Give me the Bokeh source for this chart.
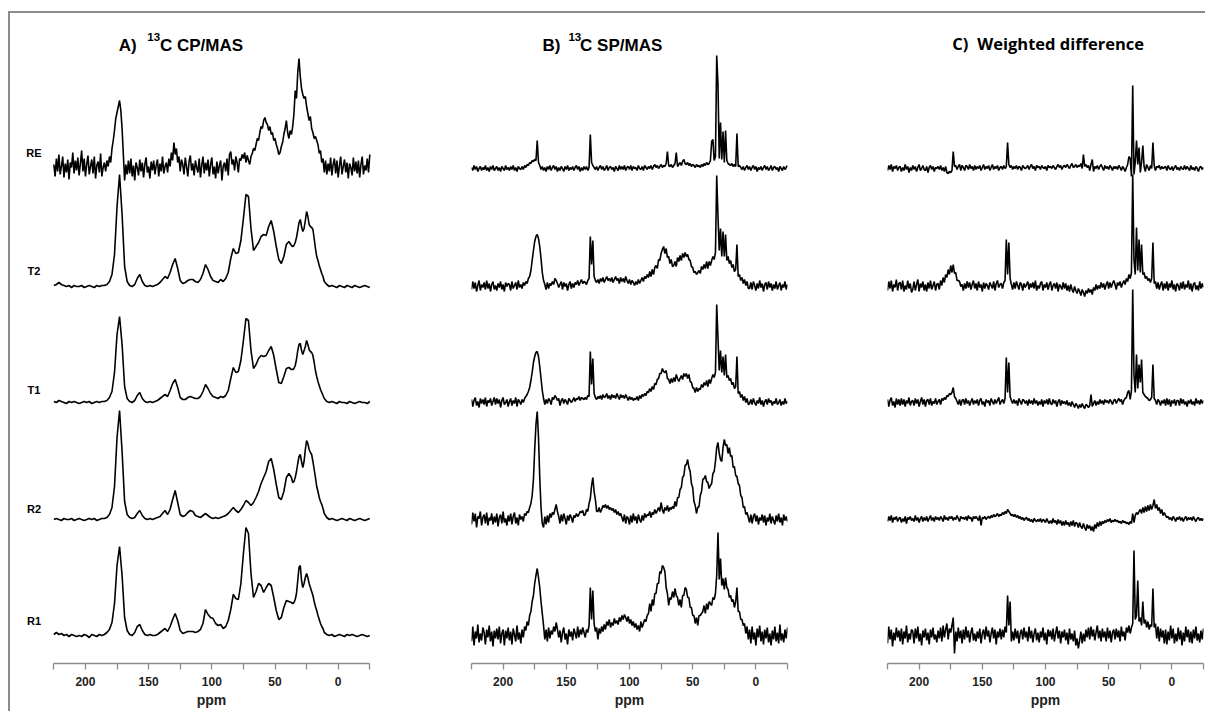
import numpy as np
from bokeh.plotting import figure
from bokeh.layouts import row
from bokeh.models import Range1d, FixedTicker
from bokeh.core.properties import value
from bokeh.embed import file_html
from bokeh.resources import INLINE

# chemical-shift sampling grids (ppm)
# coarse grid for the smooth CP/MAS traces: 2 ppm steps, 1 ppm steps at 36-12 ppm
PPM_COARSE = np.concatenate([np.arange(225, 36, -2), np.arange(36, 11, -1), np.arange(11, -26, -2)]).astype(float)
# fine 1 ppm grid for the noisy traces
PPM_FINE = np.arange(225, -26, -1).astype(float)

SAMPLES = ["RE", "T2", "T1", "R2", "R1"]
TICKS = [200, 150, 100, 50, 0]
MINOR_TICKS = [225, 175, 125, 75, 25, -25]

# ---------------- A) 13C CP/MAS ----------------
A_RE = [  # fine grid, 225 .. -25
    4, -8, 10, -3, 14, -6, 2, 12, -9, 5,
    -4, 9, -11, 6, 1, 16, -5, 8, -2, 11,
    -7, 5, 18, -3, 10, -8, 4, 13, -6, 2,
    9, -5, 12, -10, 3, 7, -4, 15, -8, 1,
    6, -3, 8, 2, 12, 6, 20, 28, 38, 50,
    56, 62, 68, 58, 40, 14, -12, 4, -6, 8,
    -5, 10, -8, 3, -12, 6, 1, -7, 9, -3,
    6, -9, 4, 11, -4, 2, -10, 7, -2, 8,
    -6, 3, 9, -8, 5, -3, 12, -5, 2, 6,
    -4, 10, 2, 16, 8, 26, 14, 20, 6, 12,
    -3, 9, 4, -6, 11, 2, -8, 7, 13, -2,
    5, -7, 8, 1, -4, 10, -9, 3, 12, -5,
    6, -2, 9, -8, 4, 11, -6, 2, -10, 7,
    -5, 3, 8, -12, 2, 6, -3, 10, -7, 14,
    17, 4, 9, -2, 12, 6, -4, 10, 8, 14,
    10, 16, 6, 13, 8, 4, 12, 15, 20, 18,
    24, 30, 28, 36, 42, 40, 48, 51, 46, 44,
    38, 42, 34, 36, 28, 30, 24, 20, 14, 16,
    22, 26, 34, 40, 48, 36, 30, 38, 34, 42,
    55, 78, 70, 96, 110, 92, 80, 74, 70, 72,
    62, 55, 48, 52, 40, 36, 30, 32, 28, 24,
    15, 18, 6, 10, -4, 8, -6, 5, -3, 11,
    -7, 4, 10, -5, 8, -9, 3, 12, -6, 2,
    9, -4, 6, -10, 5, 1, -7, 11, -3, 7,
    -5, 8, -9, 4, 12, -6, 3, -2, 10, -4,
    14,
]
A_T2 = [  # coarse grid
    1, 2, 4, 2, 1, 0, 1, -1, 1, 0,
    0, 1, -1, 0, 1, 0, -1, 1, 0, 1,
    1, 2, 5, 12, 32, 80, 112, 72, 20, 5,
    1, 0, 2, 8, 12, 5, 1, 0, 1, 0,
    1, 2, 4, 7, 10, 8, 14, 22, 28, 18,
    6, 3, 4, 6, 7, 7, 5, 4, 7, 13,
    22, 17, 10, 6, 5, 4, 7, 5, 8, 14,
    28, 38, 33, 34, 46, 68, 92, 90, 58, 36,
    40, 44, 50, 52, 51, 60, 66, 55, 40, 27,
    23, 30, 42, 45, 41,
    40, 41, 44, 49, 56, 64, 67, 60, 55, 58,
    66, 75, 70, 62, 60, 59, 57, 48, 38, 30,
    26, 21, 17, 13, 10,
    5, 2, 0, 1, 0, -1, 1, 0, -1, 1,
    0, -1, 1, 0, -1, 0, 1, 0, -1,
]
A_T1 = [  # coarse grid
    1, 0, 2, 1, 0, -1, 1, 0, 1, 0,
    -1, 0, 1, 0, 1, -1, 0, 1, 0, 1,
    1, 2, 5, 11, 30, 68, 86, 58, 16, 4,
    1, 0, 2, 7, 10, 4, 1, 0, 1, 0,
    1, 2, 4, 6, 8, 6, 12, 19, 23, 15,
    5, 3, 3, 5, 6, 5, 4, 4, 6, 11,
    18, 14, 9, 6, 5, 4, 6, 5, 7, 12,
    24, 35, 30, 31, 42, 62, 84, 82, 52, 34,
    38, 44, 47, 46, 47, 52, 56, 47, 33, 20,
    19, 26, 34, 35, 33,
    33, 34, 37, 43, 52, 58, 59, 52, 48, 52,
    56, 62, 58, 53, 51, 50, 47, 40, 32, 26,
    21, 17, 13, 10, 7,
    4, 1, 0, 1, 0, -1, 1, 0, 0, -1,
    1, 0, -1, 0, 1, 0, 0, -1, 1,
]
A_R2 = [  # coarse grid
    0, 1, 0, -1, 1, 0, 0, 1, -1, 0,
    1, 0, -1, 0, 1, 0, 1, -1, 0, 1,
    1, 2, 5, 12, 33, 82, 109, 68, 18, 5,
    2, 1, 2, 6, 9, 4, 1, 0, 1, 0,
    1, 2, 3, 6, 9, 5, 10, 20, 29, 17,
    5, 3, 4, 7, 9, 8, 4, 3, 2, 4,
    6, 4, 2, 1, 2, 1, 2, 3, 4, 6,
    9, 12, 9, 7, 10, 14, 19, 17, 14, 17,
    22, 28, 36, 42, 48, 58, 61, 50, 35, 22,
    20, 28, 42, 46, 42,
    37, 38, 42, 48, 56, 63, 65, 58, 52, 58,
    70, 79, 76, 70, 67, 65, 58, 50, 42, 33,
    28, 22, 18, 15, 11,
    6, 2, 0, 1, 0, -1, 0, 1, 0, -1,
    1, 0, -1, 0, 1, 0, -1, 0, 1,
]
A_R1 = [  # coarse grid
    1, 3, 1, 2, 0, 1, -1, 1, 0, -1,
    0, -1, 1, 0, -2, 1, 0, -1, 1, 0,
    1, 3, 6, 13, 32, 70, 89, 60, 18, 5,
    1, 0, 3, 9, 11, 5, 1, 0, 1, 0,
    0, 1, 3, 5, 7, 4, 9, 16, 22, 15,
    5, 2, 3, 4, 4, 4, 3, 4, 6, 12,
    26, 21, 18, 17, 12, 10, 11, 7, 9, 15,
    26, 41, 37, 36, 52, 82, 108, 102, 62, 38,
    44, 52, 50, 43, 48, 52, 50, 38, 25, 16,
    18, 28, 35, 34, 33,
    32, 33, 36, 42, 55, 68, 70, 55, 48, 52,
    58, 62, 58, 52, 48, 44, 40, 34, 29, 25,
    20, 16, 12, 9, 7,
    3, 1, 0, 1, -1, 0, 1, 0, -1, 1,
    0, 1, 0, -1, 0, 1, 0, -1, 0,
]

# ---------------- B) 13C SP/MAS (fine grid) ----------------
B_RE = [
    1, -2, 3, -1, 2, -3, 0, 2, -2, 1,
    -1, 3, -2, 1, -3, 2, -1, 3, -2, 0,
    2, -2, 1, -3, 2, 0, -2, 3, -1, 1,
    -2, 2, -1, 3, -2, 1, -3, 2, 0, -1,
    2, -1, 3, 1, 4, 3, 6, 5, 8, 7,
    9, 8, 28, 6, 3, -1, 2, -2, 1, -3,
    2, -1, 3, -2, 1, 3, -1, 2, -3, 1,
    -2, 2, 0, -3, 2, -1, 3, -2, 1, -1,
    2, -2, 1, 3, -1, 2, -3, 1, -2, 2,
    -1, 2, -2, 1, 34, 6, 3, 1, -1, 2,
    -2, 1, 3, -1, 2, -2, 0, 3, -2, 1,
    2, -1, 1, -3, 2, 0, -2, 3, -1, 2,
    -1, 3, -2, 1, 2, -1, 3, -2, 2, 0,
    1, -2, 3, 0, -1, 2, -2, 3, 1, -1,
    2, 0, 3, -1, 2, 4, 1, 3, 0, 2,
    4, 1, 3, 2, 5, 17, 3, 2, 4, 1,
    3, 5, 16, 2, 4, 6, 3, 7, 9, 5,
    4, 6, 3, 5, 2, 4, 3, 1, 4, 2,
    3, 1, 4, 2, 5, 3, 6, 4, 5, 8,
    27, 29, 8, 12, 113, 84, 10, 46, 9, 37,
    6, 38, 8, 5, 4, 3, 5, 2, 4, 2,
    35, 2, 3, 1, -1, 2, -2, 1, 3, -1,
    2, -2, 1, 3, -1, 2, -3, 1, -1, 2,
    -2, 1, 3, -1, 2, -2, 0, 3, -2, 1,
    2, -1, 1, -3, 2, 0, -2, 2, -1, 1,
    3,
]
B_T2 = [
    -3, 5, -2, 4, -5, 1, 6, -4, 2, -1,
    4, -3, 6, -2, 3, -5, 2, 5, -3, 1,
    -4, 3, -1, 5, -3, 2, -5, 4, 0, 3,
    2, -4, 5, -2, 1, 4, -3, 6, -1, 2,
    -2, 4, 1, 5, 3, 8, 10, 16, 26, 36,
    45, 50, 52, 48, 40, 28, 14, 6, 2, -3,
    4, -2, 3, 1, 5, 2, 8, 6, 3, -1,
    2, 5, -3, 4, 0, 3, -4, 2, 5, -2,
    3, -1, 4, 2, 6, 1, 4, 7, 3, 5,
    4, 2, 6, 8, 50, 22, 46, 10, 6, 4,
    7, 3, 8, 5, 9, 4, 7, 10, 6, 8,
    5, 9, 4, 7, 10, 6, 8, 3, 9, 5,
    8, 4, 10, 6, 3, 7, 2, 6, 4, 1,
    5, 2, 7, 3, 6, 9, 5, 10, 8, 12,
    9, 15, 10, 17, 12, 19, 21, 18, 27, 26,
    33, 37, 40, 33, 38, 29, 30, 23, 27, 20,
    21, 25, 20, 29, 25, 31, 26, 33, 29, 34,
    30, 32, 27, 26, 20, 19, 14, 15, 12, 14,
    16, 13, 20, 17, 22, 18, 25, 18, 25, 21,
    26, 30, 27, 34, 111, 70, 36, 58, 30, 55,
    30, 52, 26, 30, 23, 26, 19, 22, 15, 17,
    42, 10, 12, 6, 9, 3, 7, 1, 5, -2,
    -2, 4, -3, 5, 1, -4, 3, -2, 6, -1,
    3, -5, 2, 4, -3, 5, -1, 3, -4, 2,
    -2, 5, -3, 1, 4, -4, 2, -1, 5, -3,
    2,
]
B_T1 = [
    3, -4, 2, 5, -3, 1, -5, 4, -1, 3,
    -2, 5, -4, 2, 0, 4, -3, 1, 5, -2,
    4, -1, 3, -5, 2, 5, -2, 0, 3, -4,
    1, 4, -3, 2, -1, 5, -4, 3, 1, -2,
    3, 0, 4, 6, 8, 11, 15, 22, 30, 40,
    46, 50, 51, 46, 36, 24, 12, 4, -2, 3,
    -1, 4, 2, -2, 5, 3, 7, 5, 2, 4,
    -3, 2, 4, -1, 3, 1, -2, 4, 2, 0,
    2, 5, 1, 4, 3, 6, 2, 5, 4, 3,
    5, 3, 7, 6, 51, 18, 44, 9, 5, 3,
    6, 4, 7, 3, 8, 5, 6, 9, 4, 7,
    3, 8, 5, 7, 4, 9, 6, 3, 8, 5,
    7, 4, 8, 5, 2, 6, 3, 5, 2, 4,
    3, 6, 2, 7, 4, 8, 6, 9, 7, 11,
    10, 14, 11, 16, 13, 19, 18, 23, 24, 29,
    29, 34, 31, 30, 32, 24, 23, 19, 24, 20,
    25, 21, 28, 24, 21, 24, 27, 23, 29, 26,
    29, 24, 28, 21, 20, 15, 14, 10, 15, 11,
    14, 13, 18, 15, 20, 17, 22, 16, 23, 19,
    24, 28, 25, 30, 98, 64, 32, 52, 30, 46,
    27, 48, 25, 27, 22, 24, 18, 20, 14, 16,
    46, 9, 11, 5, 8, 2, 6, 0, 4, -2,
    -1, 3, -2, 4, 0, -3, 2, -1, 5, -2,
    2, -4, 1, 3, -2, 4, 0, 2, -3, 1,
    -1, 4, -2, 0, 3, -3, 1, -2, 4, -1,
    1,
]
B_R2 = [
    -5, 7, -2, 6, -8, 3, 1, 8, -6, 2,
    5, -4, 7, -6, 2, -1, 6, -5, 3, -3,
    6, -7, 2, 5, -4, 8, -3, 1, -6, 4,
    -2, 6, -5, 3, 7, -4, 2, -6, 5, 0,
    3, -2, 6, 4, 8, 7, 12, 16, 24, 40,
    70, 95, 108, 82, 42, 12, -4, -8, 3, -5,
    4, -3, 6, 2, 7, 5, 10, 15, 8, 3,
    -4, 5, -2, 6, 1, -5, 4, -1, 5, 2,
    -3, 4, 2, 6, 3, 5, 8, 7, 9, 4,
    5, 10, 8, 16, 21, 34, 42, 28, 20, 8,
    8, 12, 7, 10, 14, 12, 15, 11, 14, 10,
    12, 9, 11, 7, 10, 5, 8, 4, 6, 2,
    -2, 5, -4, 3, 1, -5, 4, -3, 6, -1,
    3, -4, 5, 0, -3, 4, -1, 6, 2, 5,
    4, 8, 2, 7, 5, 10, 6, 9, 12, 8,
    17, 10, 6, 12, 9, 14, 8, 12, 10, 13,
    11, 18, 13, 22, 22, 30, 32, 42, 44, 54,
    55, 60, 52, 48, 36, 32, 18, 14, 6, 12,
    13, 24, 28, 40, 41, 44, 38, 37, 31, 34,
    36, 46, 48, 58, 72, 77, 66, 60, 58, 72,
    80, 74, 75, 66, 72, 63, 64, 52, 53, 44,
    43, 36, 34, 24, 22, 12, 13, 5, 7, 2,
    -3, 5, -4, 3, 6, -2, 4, -5, 2, -1,
    5, -3, 4, -6, 2, -2, 6, -4, 3, -1,
    -5, 4, -2, 6, -3, 2, -6, 5, -1, 3,
    -2,
]
B_R1 = [
    -6, 9, -10, 4, -3, 11, -7, 2, -5, 8,
    3, -9, 6, -2, 10, -6, 4, -11, 5, -3,
    7, -4, 9, -8, 2, 6, -10, 5, -3, 8,
    -5, 4, -9, 7, 1, -6, 10, -4, 3, -8,
    6, -2, 9, 5, 14, 10, 20, 24, 34, 40,
    52, 60, 67, 58, 48, 34, 22, 10, -4, 6,
    -6, 8, -3, 5, 1, 9, 4, 13, 6, -2,
    5, -7, 3, 8, -4, 2, -9, 6, -1, 4,
    -5, 7, 2, -3, 9, -2, 6, 1, 8, 3,
    -2, 6, 3, 10, 48, 16, 45, 12, 4, 8,
    -4, 7, 2, 9, 4, 11, 6, 14, 10, 16,
    8, 13, 10, 17, 12, 15, 11, 18, 14, 20,
    16, 21, 18, 14, 19, 12, 16, 10, 14, 8,
    12, 6, 10, 4, 14, 8, 12, 16, 14, 20,
    22, 32, 24, 36, 30, 42, 42, 52, 52, 64,
    62, 70, 68, 64, 48, 42, 30, 38, 36, 44,
    38, 47, 40, 38, 30, 36, 28, 40, 40, 48,
    46, 38, 38, 28, 28, 20, 20, 12, 18, 10,
    20, 20, 22, 24, 30, 22, 32, 26, 34, 32,
    30, 38, 36, 42, 60, 103, 56, 77, 50, 57,
    46, 58, 48, 46, 38, 40, 34, 36, 28, 34,
    48, 24, 24, 16, 16, 10, 12, 2, 9, -4,
    6, -8, 9, -4, 3, -10, 7, -2, 10, -6,
    4, -9, 6, -3, 8, -7, 2, -10, 5, -4,
    9, -6, 3, -8, 11, -5, 2, -7, 6, -3,
    8,
]

# ---------------- C) Weighted difference (fine grid) ----------------
C_RE = [
    -2, 3, -1, 4, -3, 2, 0, 3, -2, 1,
    2, -3, 1, -2, 4, -1, 2, -4, 1, -2,
    3, -1, 2, -3, 1, 4, -2, 0, 3, -1,
    -2, 2, -4, 1, 3, -1, 2, -3, 1, 0,
    2, -1, 3, -2, 1, -3, 2, -4, -5, -3,
    -4, -2, 17, 2, 3, -1, 2, 4, -2, 3,
    1, -2, 3, 2, -1, 4, 0, 2, -2, 3,
    -1, 2, 0, 3, -2, 1, 4, -1, 2, 0,
    3, -2, 1, 4, -1, 2, 0, 3, -2, 1,
    2, -1, 3, 0, 2, 26, 4, 1, 3, -1,
    2, 0, 3, -1, 2, 1, -2, 3, 1, 0,
    1, 3, -1, 2, 4, 0, 2, -2, 3, 1,
    2, -1, 3, 1, 0, 2, -2, 3, 1, 2,
    0, 3, 1, -1, 2, 4, 1, 3, -1, 2,
    3, 1, 4, 2, 0, 3, 5, 1, 2, 4,
    1, 3, 2, 5, 0, 14, 2, 4, 1, 3,
    -2, 4, 9, -3, 2, 0, 3, -1, 2, 4,
    1, -2, 3, 0, 2, -1, 3, 1, -2, 2,
    0, 2, -1, 3, 1, -2, 2, 0, -3, 1,
    4, 12, 10, -8, 83, -6, 6, 28, 4, 21,
    -4, 6, 23, 2, -3, 4, 1, -2, 3, 0,
    26, 3, -2, 2, 1, 3, -1, 2, 0, 1,
    2, -2, 3, 0, -1, 2, -2, 1, 3, -1,
    1, -2, 2, 0, -1, 3, -1, 2, 0, -2,
    3, -1, 1, -2, 2, 0, -3, 1, 2, -1,
    1,
]
C_T2 = [
    -4, 5, -2, 6, -5, 2, -1, 7, -4, 3,
    4, -3, 6, -5, 1, -3, 6, -2, 3, -6,
    -3, 5, -4, 2, 7, -5, 3, -1, 5, -4,
    2, -5, 4, -2, 6, -3, 1, 5, -4, 2,
    3, -3, 6, 1, 9, 4, 12, 9, 17, 12,
    21, 14, 22, 13, 14, 6, 6, 5, 0, 2,
    -4, 3, -2, 5, -1, 4, -3, 2, 6, -2,
    3, -4, 5, -1, 2, -5, 4, -2, 3, 1,
    -3, 4, 1, -2, 5, -4, 3, 6, -1, 2,
    3, -2, 4, 6, 47, 12, 44, 8, 2, -3,
    4, -2, 5, 1, -3, 4, 2, -4, 3, -1,
    2, 5, -3, 3, -1, 4, -2, 6, -4, 1,
    -2, 3, 5, -4, 2, -1, 4, -3, 2, 5,
    -4, 1, 3, -2, 4, -5, 2, 0, -3, 4,
    -2, 3, -4, 1, -5, 2, -3, -6, 0, -4,
    -7, -2, -5, -9, -3, -6, -10, -4, -7, -2,
    -6, -3, -8, -1, -4, 2, -3, 1, -2, 4,
    -1, 3, -3, 2, 5, -2, 4, -1, 3, 6,
    2, -3, 4, 1, 5, -1, 3, 6, 2, 8,
    5, 12, 8, 14, 112, 26, 12, 59, 16, 47,
    14, 42, 12, 14, 8, 10, 6, 8, 4, 8,
    44, 3, 5, -2, 4, -3, 2, 5, -4, 3,
    -2, 5, -4, 3, -1, 6, -3, 2, -5, 3,
    1, -4, 4, -2, 5, -3, 2, -1, 6, -3,
    3, -5, 2, 4, -3, 1, -4, 5, -2, 3,
    -1,
]
C_T1 = [
    3, -4, 2, 5, -3, 1, -5, 4, -2, 3,
    -3, 4, -2, 3, -4, 2, -1, 5, -3, 1,
    2, -3, 4, -1, 3, -4, 1, 5, -2, 3,
    -4, 2, 3, -2, 4, -3, 1, -1, 4, -2,
    1, 3, -2, 4, 2, 5, 3, 7, 6, 9,
    8, 10, 15, 6, 4, 1, -2, 3, -3, 2,
    3, -2, 4, -1, 2, -3, 1, 4, -2, 2,
    -1, 3, -3, 2, 4, -2, 1, -4, 3, 0,
    2, -3, 4, 1, -2, 3, -1, 2, 5, -2,
    1, 3, -1, 4, 45, 10, 40, 6, 2, -1,
    3, -1, 2, -3, 4, 1, -2, 3, 2, -1,
    2, -3, 3, -1, 2, -2, 4, -1, 2, -3,
    1, -2, 3, -4, 2, -1, 3, -2, 4, -1,
    -2, 3, -1, 2, -4, 1, 3, -3, 2, -1,
    1, -2, 2, -3, 0, -4, 1, -2, -5, -1,
    -3, -6, -2, -5, -1, -4, -6, -2, -3, -5,
    -3, 8, -4, -1, 2, -3, 1, -2, 3, -1,
    2, -2, 3, 0, 2, -1, 3, 1, -2, 2,
    3, -1, 2, 4, 1, 3, -2, 2, 4, 5,
    10, 12, 3, 12, 113, 28, 10, 48, 14, 38,
    20, 43, 10, 8, 6, 5, 4, 2, 3, 5,
    38, 4, 2, -2, 3, 1, -3, 2, -1, 3,
    -3, 4, -2, 3, -4, 2, -1, 3, -3, 2,
    2, -3, 4, -1, 3, -2, 1, -4, 2, -1,
    3, -2, 1, -3, 4, -1, 2, -2, 3, -1,
    2,
]
C_R2 = [
    -2, 3, -1, 4, -3, 2, 0, 3, -2, 1,
    2, -3, 1, -2, 3, -4, 2, 0, 3, -1,
    1, -2, 4, -1, 2, -3, 1, 3, -2, 2,
    -1, 3, -2, 1, 4, -1, 2, -2, 3, 0,
    2, -1, 3, 1, -2, 4, 0, 2, -1, 3,
    1, 3, -1, 2, 0, 4, 1, -2, 3, 1,
    2, 0, 3, -1, 4, 1, 2, -2, 3, 1,
    3, 1, -1, 4, -6, 2, 1, 3, 0, 2,
    3, 1, 4, 2, 5, 3, 4, 6, 3, 5,
    4, 7, 5, 8, 6, 10, 8, 6, 4, 5,
    3, 5, 2, 4, 1, 3, 0, 2, -1, 1,
    2, -1, 1, -2, 0, -3, 1, -1, -2, 0,
    -2, 1, -3, 0, -1, -3, 1, -2, -4, -1,
    -4, 1, -3, -1, -5, 0, -4, -1, -6, -2,
    -6, -1, -5, -3, -7, -2, -6, -1, -7, -3,
    -4, -8, -3, -7, -9, -4, -8, -11, -5, -9,
    -6, -11, -7, -12, -5, -9, -3, -7, -2, -6,
    -2, -4, -1, -3, 0, -2, 1, -3, -1, -2,
    0, -2, -1, -3, -2, -4, -1, -3, -2, -4,
    -3, -5, -2, -4, 6, -3, 4, 7, 5, 8,
    10, 6, 12, 7, 13, 8, 14, 9, 15, 10,
    14, 20, 11, 15, 9, 12, 6, 10, 4, 7,
    4, 2, 3, 0, 2, -1, 3, 1, -2, 2,
    0, 3, -1, 2, -2, 1, 3, -1, 2, 0,
    2, -1, 3, 0, -2, 1, 2, -1, 1, -1,
    1,
]
C_R1 = [
    -8, 9, -4, 6, -11, 3, -5, 8, -2, 5,
    -6, 7, -9, 4, -3, 10, -7, 2, -4, 6,
    4, -8, 7, -3, 9, -6, 2, -10, 5, -2,
    7, -5, 3, -9, 6, -2, 8, -4, 1, -7,
    5, -3, 8, -6, 10, -2, 6, 12, -4, 7,
    3, 10, 18, -18, 4, -6, 8, -3, 5, -8,
    6, -4, 9, -2, 5, -7, 3, 8, -5, 2,
    -6, 4, -3, 7, -8, 2, 6, -4, 9, -1,
    5, -7, 2, 8, -3, 6, -9, 4, -2, 7,
    -4, 6, -2, 9, 3, 40, 10, 34, -6, 4,
    -5, 7, -3, 5, -8, 2, 6, -4, 8, -2,
    4, -6, 9, -3, 5, -7, 2, 7, -5, 3,
    -7, 4, -2, 8, -5, 3, -9, 6, -1, 5,
    -4, 7, -6, 2, 9, -3, 5, -8, 4, -2,
    6, -5, 3, -9, 7, -4, 2, -6, 5, -10,
    -3, -13, -5, 4, -8, 2, -6, 6, -2, 8,
    -4, 9, -1, 6, -5, 3, 10, -3, 5, -6,
    7, -2, 4, -6, 8, -3, 5, -7, 3, 6,
    -4, 7, -2, 5, -6, 9, -1, 4, -5, 8,
    3, 10, 2, 8, 12, 85, 16, 20, 55, 14,
    18, 10, 34, 12, 16, 8, 14, 6, 11, 9,
    47, 8, 12, -3, 9, -6, 7, -2, 5, -8,
    6, -9, 4, -5, 10, -3, 7, -8, 2, -6,
    8, -4, 5, -10, 3, -6, 9, -2, 6, -7,
    4, -8, 6, -3, 9, -5, 2, -7, 5, -4,
    7,
]

PANEL_A = [(A_RE, PPM_FINE), (A_T2, PPM_COARSE), (A_T1, PPM_COARSE), (A_R2, PPM_COARSE), (A_R1, PPM_COARSE)]
PANEL_B = [(s, PPM_FINE) for s in (B_RE, B_T2, B_T1, B_R2, B_R1)]
PANEL_C = [(s, PPM_FINE) for s in (C_RE, C_T2, C_T1, C_R2, C_R1)]
for s, grid in PANEL_A + PANEL_B + PANEL_C:
    assert len(s) == len(grid), (len(s), len(grid))

# vertical stacking offsets of the traces and of the sample labels (plot units)
OFFSETS = [495, 377, 261, 144, 28]
LABEL_Y = [511, 393, 274, 155, 43]

GRAY = "#8c8c8c"


def make_panel(spectra, title_parts, x_start, x_end, width, mbl, mbr, labels=False):
    p = figure(width=width, height=698, x_range=Range1d(x_start, x_end), y_range=Range1d(0, 650),
               output_backend="svg", toolbar_location=None, y_axis_location=None,
               min_border_left=mbl, min_border_right=mbr, min_border_top=0, min_border_bottom=48)
    p.outline_line_color = None
    p.grid.visible = False
    p.background_fill_color = "white"
    p.border_fill_color = "white"

    ax = p.xaxis[0]
    ax.ticker = FixedTicker(ticks=TICKS, minor_ticks=MINOR_TICKS)
    ax.bounds = (-25, 225)
    ax.axis_line_color = GRAY
    ax.axis_line_width = 1.3
    ax.major_tick_line_color = GRAY
    ax.minor_tick_line_color = GRAY
    ax.major_tick_line_width = 1.3
    ax.minor_tick_line_width = 1.3
    ax.major_tick_out = 6
    ax.major_tick_in = 0
    ax.minor_tick_out = 6
    ax.minor_tick_in = 0
    ax.major_label_text_font = "Liberation Sans"
    ax.major_label_text_font_style = "bold"
    ax.major_label_text_font_size = "12px"
    ax.major_label_text_color = "#222222"
    ax.major_label_standoff = 7
    ax.axis_label = "ppm"
    ax.axis_label_text_font = "Liberation Sans"
    ax.axis_label_text_font_style = "bold"
    ax.axis_label_text_font_size = "14px"
    ax.axis_label_text_color = "#222222"
    ax.axis_label_standoff = 3

    for i, (spec, grid) in enumerate(spectra):
        p.line(grid, np.asarray(spec, dtype=float) + OFFSETS[i], line_color="black", line_width=1.6)

    for txt, tx, ty, font, size in title_parts:
        p.text(x=[tx], y=[ty], text=[txt], text_font=value(font), text_font_style="bold",
               text_font_size=size, text_color="black", text_align="left", text_baseline="alphabetic")
    if labels:
        p.text(x=[240.7] * len(SAMPLES), y=LABEL_Y, text=SAMPLES,
               text_font=value("Liberation Sans"), text_font_style="bold", text_font_size="11px",
               text_color="black", text_align="center", text_baseline="middle")
    return p


TITLE_A = [("A)", 173.6, 618, "Liberation Sans", "17px"), ("13", 151.1, 627, "Liberation Sans", "11.5px"),
           ("C CP/MAS", 141.1, 618, "Liberation Sans", "17px")]
TITLE_B = [("B)", 168.8, 618, "Liberation Sans", "17px"), ("13", 148.3, 627, "Liberation Sans", "11.5px"),
           ("C SP/MAS", 139.1, 618, "Liberation Sans", "17px")]
TITLE_C = [("C)", 173.8, 619.7, "Open Sans", "16.5px"), ("Weighted difference", 154.0, 619.7, "Open Sans", "16.5px")]

pA = make_panel(PANEL_A, TITLE_A, 259.3, -58.8, 410, 0, 8, labels=True)
pB = make_panel(PANEL_B, TITLE_B, 225, -25, 417, 51, 50)
pC = make_panel(PANEL_C, TITLE_C, 225, -25, 368, 50, 2)

layout = row(pA, pB, pC, margin=(11, 0, 0, 8),
             styles={"border-top": "2px solid " + GRAY, "border-left": "2px solid " + GRAY})

open("out.html", "w").write(file_html(layout, INLINE))
